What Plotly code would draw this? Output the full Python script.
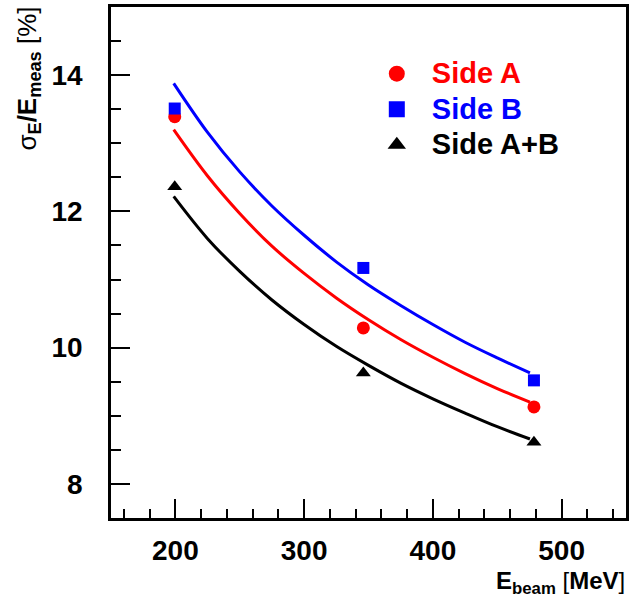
import plotly.graph_objects as go

# Data points
e_beam = [199.5, 346, 478.5]
side_a = [13.39, 10.29, 9.13]
side_b = [13.51, 11.17, 9.52]
side_ab = [12.36, 9.63, 8.61]

fit_e = [198.7, 225, 250, 275, 300, 325, 350, 375, 400, 425, 450, 475.4]
fit_a = [13.20, 12.52, 11.97, 11.49, 11.09, 10.73, 10.41, 10.12, 9.86, 9.62, 9.40, 9.20]
fit_b = [13.88, 13.16, 12.58, 12.08, 11.65, 11.26, 10.92, 10.62, 10.34, 10.08, 9.85, 9.63]
fit_ab = [12.22, 11.60, 11.12, 10.70, 10.34, 10.02, 9.74, 9.48, 9.25, 9.04, 8.84, 8.66]

x_ticks = [200, 300, 400, 500]
y_ticks = [8, 10, 12, 14]

RED = "#ff0000"
BLUE = "#0000ff"
BLACK = "#000000"
FONT = "Liberation Sans, Arial, sans-serif"

fig = go.Figure()

for fe, fy, col in [(fit_e, fit_a, RED), (fit_e, fit_b, BLUE), (fit_e, fit_ab, BLACK)]:
    fig.add_trace(go.Scatter(x=fe, y=fy, mode="lines", line=dict(color=col, width=3, shape="spline"),
                             showlegend=False, hoverinfo="skip"))

fig.add_trace(go.Scatter(x=e_beam, y=side_a, mode="markers", showlegend=False,
                         marker=dict(symbol="circle", size=13, color=RED)))
fig.add_trace(go.Scatter(x=e_beam, y=side_b, mode="markers", showlegend=False,
                         marker=dict(symbol="square", size=12, color=BLUE)))
fig.add_trace(go.Scatter(x=e_beam, y=side_ab, mode="markers", showlegend=False,
                         marker=dict(symbol="triangle-up", size=13, color=BLACK)))

# legend entries
fig.add_trace(go.Scatter(x=[None], y=[None], mode="markers",
                         name="<span style='color:#ff0000;font-size:29px'>Side A</span>",
                         marker=dict(symbol="circle", size=20, color=RED)))
fig.add_trace(go.Scatter(x=[None], y=[None], mode="markers",
                         name="<span style='color:#0000ff;font-size:29px'>Side B</span>",
                         marker=dict(symbol="square", size=18, color=BLUE)))
fig.add_trace(go.Scatter(x=[None], y=[None], mode="markers",
                         name="<span style='font-size:29px'>Side A+B</span>",
                         marker=dict(symbol="triangle-up", size=18, color=BLACK)))

axis_common = dict(
    showgrid=False, zeroline=False, showline=True, linecolor="black", linewidth=2.5,
    mirror=True, ticks="inside", ticklen=19, tickwidth=2, tickcolor="black",
    tickfont=dict(family=FONT, size=28, color="black", weight="bold"),
)

fig.update_xaxes(range=[150, 550], tickvals=x_ticks, ticklabelstandoff=6,
                 minor=dict(dtick=20, tick0=0, ticks="inside", ticklen=9, tickwidth=2, tickcolor="black"),
                 **axis_common)
fig.update_yaxes(range=[7.5, 15], tickvals=y_ticks, ticklabelstandoff=20,
                 minor=dict(dtick=0.5, tick0=0, ticks="inside", ticklen=10, tickwidth=2, tickcolor="black"),
                 **axis_common)

fig.add_annotation(xref="paper", yref="paper", x=1.002, y=-0.091, xanchor="right", yanchor="top",
                   showarrow=False,
                   text="<b>E<sub>beam</sub></b> [<b>MeV</b>]",
                   font=dict(family=FONT, size=24, color="black"))
fig.add_annotation(xref="paper", yref="paper", x=-0.16, y=1.004, xanchor="center", yanchor="top",
                   textangle=-90, showarrow=False,
                   text="σ<sub><b>E</b></sub><b>/E<sub>meas</sub></b> [%]",
                   font=dict(family=FONT, size=26, color="black"))

fig.update_layout(
    width=641, height=604,
    margin=dict(l=111, r=15, t=4, b=86),
    paper_bgcolor="white", plot_bgcolor="white",
    legend=dict(x=0.487, y=0.914, xanchor="left", yanchor="top", bgcolor="rgba(0,0,0,0)",
                font=dict(family=FONT, size=25, color="black", weight="bold"),
                itemwidth=60, tracegroupgap=0),
)

fig.write_html("out.html")
